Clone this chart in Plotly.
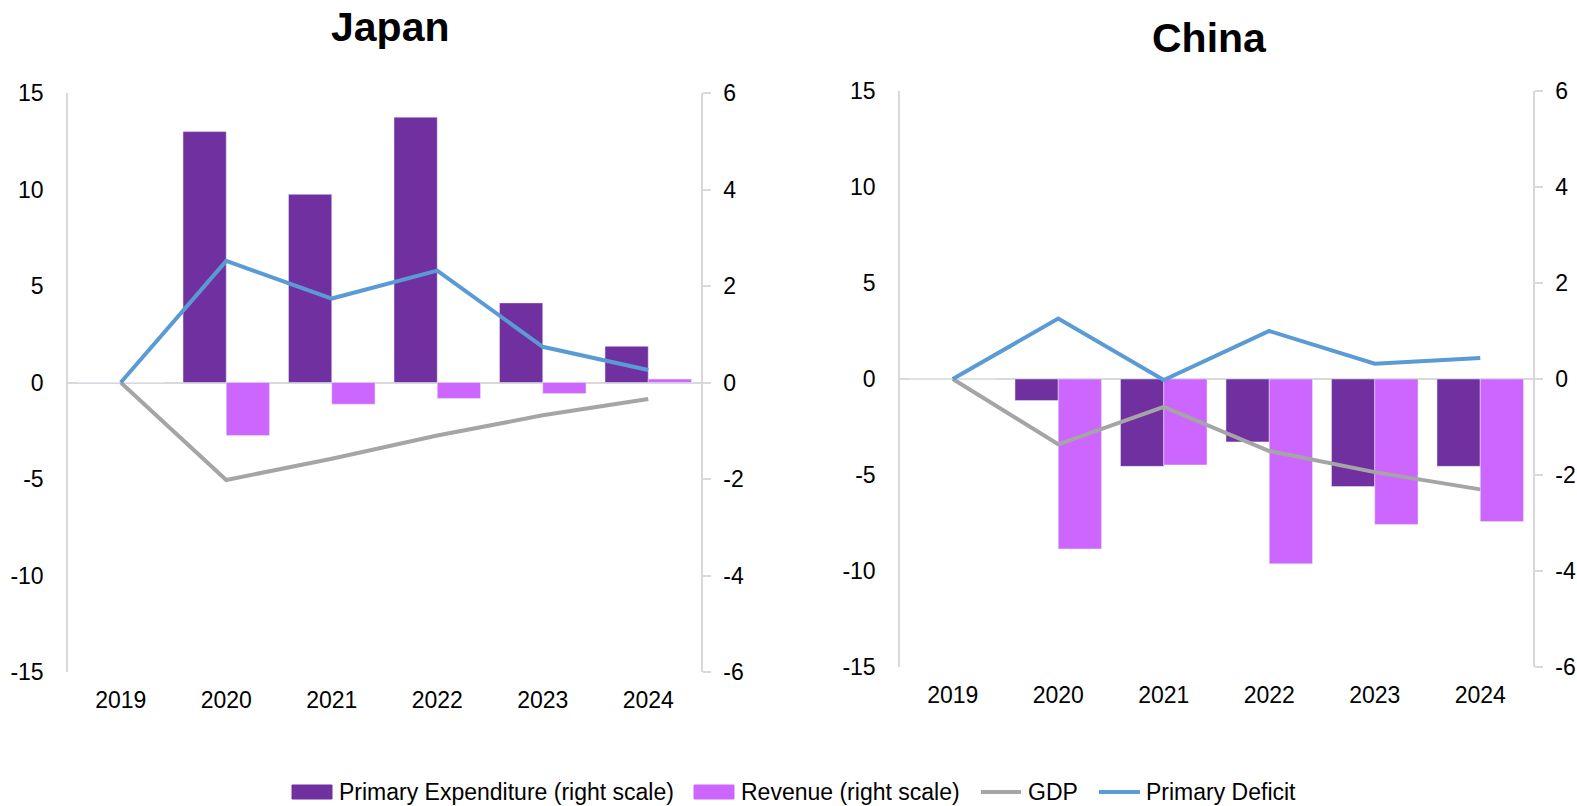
import plotly.graph_objects as go

# Years on the category axis
years = ["2019", "2020", "2021", "2022", "2023", "2024"]

# Japan (bars on the right scale, lines on the left scale)
jp_expenditure = [0, 5.2, 3.9, 5.5, 1.65, 0.75]
jp_revenue = [0, -1.1, -0.45, -0.33, -0.23, 0.07]
jp_gdp = [0, -5.05, -3.95, -2.75, -1.7, -0.85]
jp_deficit = [0, 6.3, 4.35, 5.8, 1.85, 0.65]

# China
cn_expenditure = [0, -0.45, -1.82, -1.31, -2.24, -1.82]
cn_revenue = [0, -3.54, -1.79, -3.85, -3.03, -2.97]
cn_gdp = [0, -3.4, -1.45, -3.75, -4.85, -5.75]
cn_deficit = [0, 3.15, -0.05, 2.5, 0.8, 1.1]

left_ticks = [-15, -10, -5, 0, 5, 10, 15]
right_ticks = [-6, -4, -2, 0, 2, 4, 6]

series_names = ["Primary Expenditure (right scale)", "Revenue (right scale)",
                "GDP", "Primary Deficit"]

C_EXP = "#7030A0"
C_REV = "#CC66FF"
C_GDP = "#A5A5A5"
C_DEF = "#5B9BD5"
AXIS = "#D9D9D9"
FONT = "Arial, Liberation Sans, sans-serif"

fig = go.Figure()

panels = [
    ("x", "y", "y2", jp_expenditure, jp_revenue, jp_gdp, jp_deficit),
    ("x2", "y3", "y4", cn_expenditure, cn_revenue, cn_gdp, cn_deficit),
]

for xa, ybar, yline, exp, rev, gdp, dfc in panels:
    fig.add_trace(go.Bar(x=years, y=exp, name=series_names[0],
                         marker_color=C_EXP, xaxis=xa, yaxis=ybar,
                         offsetgroup="a", showlegend=False))
    fig.add_trace(go.Bar(x=years, y=rev, name=series_names[1],
                         marker_color=C_REV, xaxis=xa, yaxis=ybar,
                         offsetgroup="b", showlegend=False))
    fig.add_trace(go.Scatter(x=years, y=gdp, name=series_names[2], mode="lines",
                             line=dict(color=C_GDP, width=4),
                             xaxis=xa, yaxis=yline, showlegend=False))
    fig.add_trace(go.Scatter(x=years, y=dfc, name=series_names[3], mode="lines",
                             line=dict(color=C_DEF, width=4),
                             xaxis=xa, yaxis=yline, showlegend=False))

W, H = 1577, 806


def xdom(a, b):
    return [a / W, b / W]


def ydom(top, bottom):
    return [1 - bottom / H, 1 - top / H]


def fmt(v):
    return str(v)


tickfont = dict(family=FONT, size=23, color="black")

xcommon = dict(type="category", showgrid=False, showline=False, zeroline=False,
               ticks="", tickfont=tickfont, ticklabelstandoff=12, fixedrange=True)

bar_axis = dict(side="right", range=[-6, 6], tickvals=right_ticks,
                ticktext=[fmt(v) for v in right_ticks], showgrid=False,
                showline=True, linecolor=AXIS, linewidth=1.5,
                ticks="outside", ticklen=8, tickcolor=AXIS, tickwidth=1.5,
                zeroline=True, zerolinecolor=AXIS, zerolinewidth=2,
                tickfont=tickfont, ticklabelstandoff=8)

line_axis = dict(side="left", range=[-15, 15], tickvals=left_ticks,
                 ticktext=[fmt(v) for v in left_ticks], showgrid=False,
                 showline=True, linecolor=AXIS, linewidth=1.5, ticks="",
                 zeroline=False, tickfont=tickfont, ticklabelstandoff=18)

# Legend drawn below both panels: swatch shapes plus text labels
legend_y = 792
legend_font = dict(family=FONT, size=23, color="black")
legend_layout = [  # (swatch start, swatch end, text start) in pixels
    (292, 332, 337),
    (694, 734, 739),
    (981, 1021, 1026),
    (1099, 1140, 1144),
]
legend_kinds = ["bar", "bar", "line", "line"]
legend_colors = [C_EXP, C_REV, C_GDP, C_DEF]

shapes = []
annotations = []
for name, kind, color, (s0, s1, t0) in zip(series_names, legend_kinds, legend_colors, legend_layout):
    if kind == "bar":
        shapes.append(dict(type="rect", xref="paper", yref="paper",
                           x0=s0 / W, x1=s1 / W,
                           y0=1 - (legend_y + 7) / H, y1=1 - (legend_y - 7) / H,
                           fillcolor=color, line=dict(color=color, width=1)))
    else:
        shapes.append(dict(type="line", xref="paper", yref="paper",
                           x0=s0 / W, x1=s1 / W,
                           y0=1 - legend_y / H, y1=1 - legend_y / H,
                           line=dict(color=color, width=4)))
    annotations.append(dict(text=name, x=t0 / W, y=1 - legend_y / H,
                            xref="paper", yref="paper", showarrow=False,
                            xanchor="left", yanchor="middle", font=legend_font))

annotations += [
    dict(text="<b>Japan</b>", x=390 / W, y=1 - 27 / H, xref="paper", yref="paper",
         showarrow=False, xanchor="center", yanchor="middle",
         font=dict(family=FONT, size=41, color="black")),
    dict(text="<b>China</b>", x=1209 / W, y=1 - 38 / H, xref="paper", yref="paper",
         showarrow=False, xanchor="center", yanchor="middle",
         font=dict(family=FONT, size=41, color="black")),
]

fig.update_layout(
    width=W, height=H,
    margin=dict(l=0, r=0, t=0, b=0, autoexpand=False),
    paper_bgcolor="white", plot_bgcolor="rgba(0,0,0,0)",
    barmode="group", bargap=0.18, bargroupgap=0,
    font=dict(family=FONT, color="black"),
    showlegend=False,
    xaxis=dict(domain=xdom(68, 701), anchor="y", **xcommon),
    xaxis2=dict(domain=xdom(900, 1533), anchor="y3", **xcommon),
    yaxis=dict(domain=ydom(93, 672), anchor="x", **bar_axis),
    yaxis2=dict(domain=ydom(93, 672), anchor="x", overlaying="y", **line_axis),
    yaxis3=dict(domain=ydom(91, 667), anchor="x2", **bar_axis),
    yaxis4=dict(domain=ydom(91, 667), anchor="x2", overlaying="y3", **line_axis),
    shapes=shapes,
    annotations=annotations,
)

fig.write_html("out.html")
